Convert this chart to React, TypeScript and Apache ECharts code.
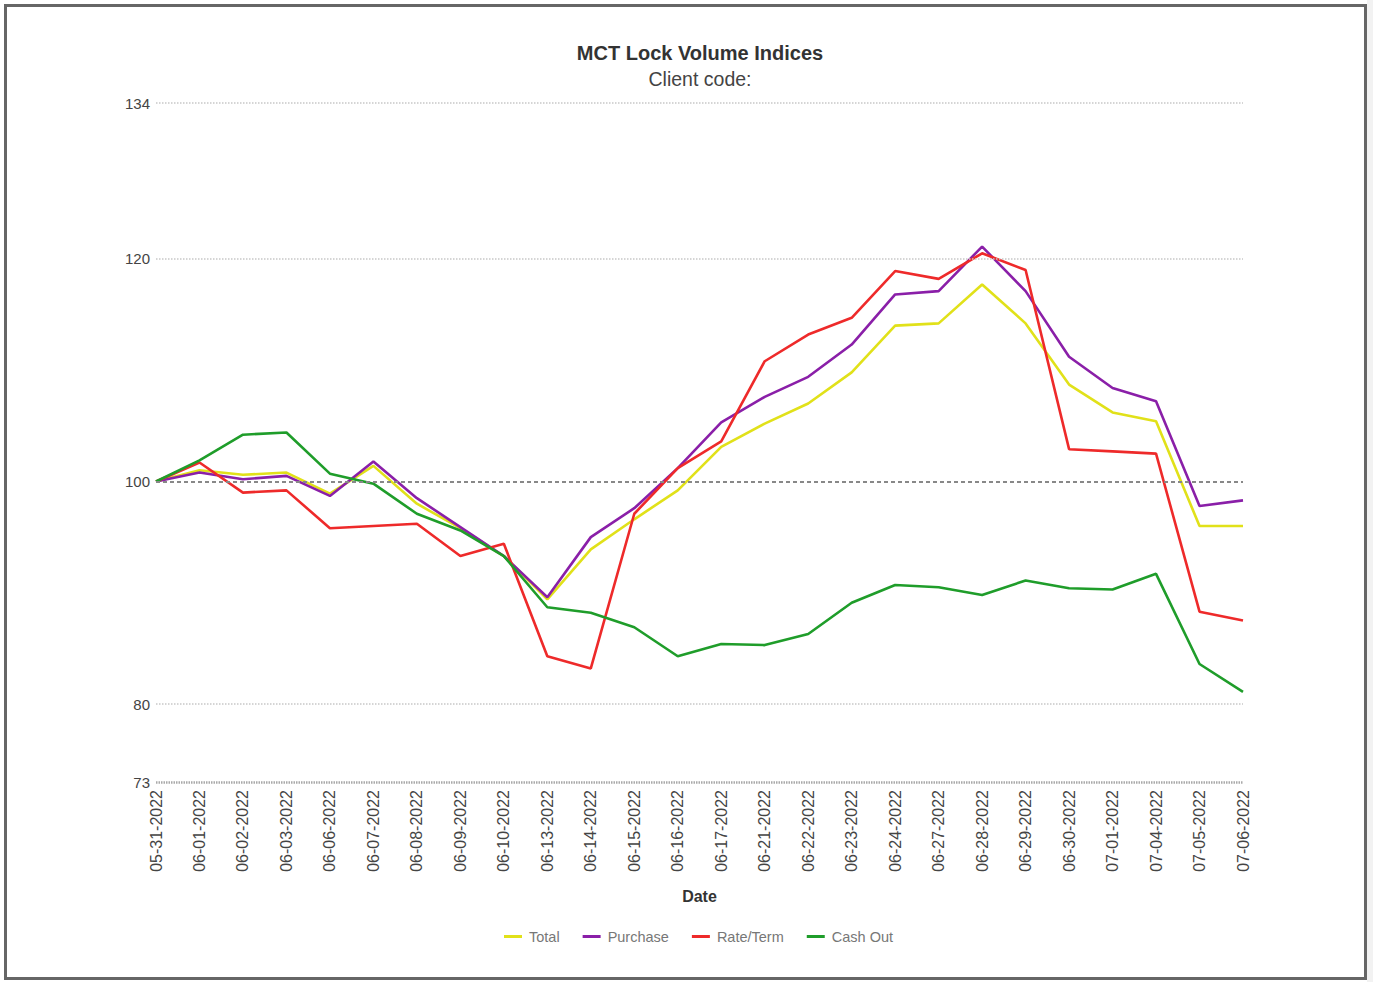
import React, { useEffect, useRef } from "react";
import * as echarts from "echarts";

const categories = [
  "05-31-2022", "06-01-2022", "06-02-2022", "06-03-2022", "06-06-2022", "06-07-2022",
  "06-08-2022", "06-09-2022", "06-10-2022", "06-13-2022", "06-14-2022", "06-15-2022",
  "06-16-2022", "06-17-2022", "06-21-2022", "06-22-2022", "06-23-2022", "06-24-2022",
  "06-27-2022", "06-28-2022", "06-29-2022", "06-30-2022", "07-01-2022", "07-04-2022",
  "07-05-2022", "07-06-2022",
];

const totalValues = [
  100, 101.0, 100.6, 100.8, 98.9, 101.4, 98.0, 95.8, 93.3, 89.4, 93.9, 96.6,
  99.2, 103.1, 105.2, 107.0, 109.8, 114.0, 114.2, 117.7, 114.2, 108.7, 106.2, 105.4,
  96.0, 96.0,
];

const purchaseValues = [
  100, 100.8, 100.2, 100.5, 98.7, 101.8, 98.5, 95.9, 93.3, 89.6, 95.0, 97.6,
  101.2, 105.3, 107.6, 109.4, 112.3, 116.8, 117.1, 121.1, 117.1, 111.2, 108.4, 107.2,
  97.8, 98.3,
];

const rateTermValues = [
  100, 101.7, 99.0, 99.2, 95.8, 96.0, 96.2, 93.3, 94.4, 84.3, 83.2, 97.1,
  101.2, 103.6, 110.8, 113.2, 114.7, 118.9, 118.2, 120.5, 119.0, 102.9, 102.7, 102.5,
  88.3, 87.5,
];

const cashOutValues = [
  100, 101.9, 104.2, 104.4, 100.7, 99.8, 97.1, 95.6, 93.3, 88.7, 88.2, 86.9,
  84.3, 85.4, 85.3, 86.3, 89.1, 90.7, 90.5, 89.8, 91.1, 90.4, 90.3, 91.7,
  83.6, 81.1,
];

const yTickValues = [73, 80, 100, 120, 134];
const gridLineValues = [134, 120, 80];
const baselineValue = 100;
const floorValue = 73;

export default function App() {
  const ref = useRef<HTMLDivElement>(null);

  useEffect(() => {
    if (!ref.current) return;
    const chart = echarts.init(ref.current, null, { renderer: "svg" });
    const font = "Liberation Sans, Arial, sans-serif";
    const lineSeries = (name: string, data: number[], color: string) => ({
      name,
      type: "line",
      data,
      symbol: "none",
      showSymbol: false,
      lineStyle: { color, width: 2.6 },
      itemStyle: { color },
      z: 3,
    });
    chart.setOption({
      animation: false,
      textStyle: { fontFamily: font },
      title: {
        text: "MCT Lock Volume Indices",
        subtext: "Client code:",
        left: 695,
        top: 38,
        textAlign: "center",
        itemGap: 6,
        textStyle: { fontSize: 20, fontWeight: "bold", color: "#333", fontFamily: font },
        subtextStyle: { fontSize: 19.5, color: "#444", fontFamily: font },
      },
      legend: {
        data: ["Total", "Purchase", "Rate/Term", "Cash Out"],
        left: 499,
        top: 924,
        itemGap: 23,
        itemWidth: 18,
        itemHeight: 3,
        icon: "rect",
        textStyle: { fontSize: 14.5, color: "#777", fontFamily: font, padding: [0, 0, 0, 2] },
      },
      grid: { left: 156, right: 130, top: 103, bottom: 200, containLabel: false },
      xAxis: {
        type: "category",
        data: categories,
        boundaryGap: false,
        name: "Date",
        nameLocation: "middle",
        nameGap: 106,
        nameTextStyle: { fontSize: 16, fontWeight: "bold", color: "#333", fontFamily: font },
        axisLine: { show: false },
        axisTick: { show: false },
        axisLabel: { rotate: 90, fontSize: 16, color: "#444", margin: 8, interval: 0, fontFamily: font },
        splitLine: { show: false },
      },
      yAxis: {
        type: "value",
        min: 73,
        max: 134,
        axisLine: { show: false },
        axisTick: { show: false, customValues: yTickValues },
        axisLabel: { customValues: yTickValues, fontSize: 15, color: "#444", margin: 6, fontFamily: font },
        splitLine: { show: false },
      },
      series: [
        {
          name: "gridlines",
          type: "line",
          data: [],
          z: 1,
          silent: true,
          markLine: {
            silent: true,
            symbol: "none",
            label: { show: false },
            data: [
              ...gridLineValues.map((v) => ({
                yAxis: v,
                lineStyle: { color: "#c8c8c8", width: 1.5, type: [1.5, 1.5] },
              })),
              { yAxis: baselineValue, lineStyle: { color: "#888", width: 2, type: [4, 3] } },
              { yAxis: floorValue, lineStyle: { color: "#aaa", width: 2.5, type: [1.5, 1] } },
            ],
          },
        },
        lineSeries("Total", totalValues, "#e1e119"),
        lineSeries("Purchase", purchaseValues, "#8a1fa8"),
        lineSeries("Rate/Term", rateTermValues, "#ee2a2a"),
        lineSeries("Cash Out", cashOutValues, "#1f9d2a"),
      ],
    });
    return () => chart.dispose();
  }, []);

  return (
    <div style={{ position: "fixed", left: 0, top: 0, width: 1373, height: 982, background: "#fff" }}>
      <div
        style={{
          position: "absolute",
          left: 4,
          top: 4,
          width: 1363,
          height: 976,
          border: "3px solid #666",
          boxSizing: "border-box",
        }}
      />
      <div style={{ position: "absolute", left: 1367, top: 0, width: 6, height: 982, background: "#f2f2f2" }} />
      <div ref={ref} style={{ position: "absolute", left: 0, top: 0, width: 1373, height: 982 }} />
    </div>
  );
}
